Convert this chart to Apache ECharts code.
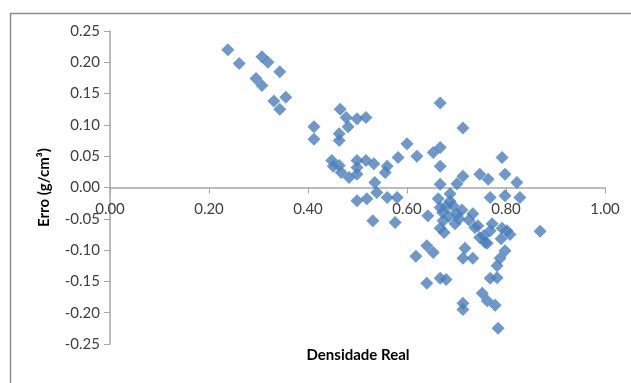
<!DOCTYPE html>
<html>
<head>
<meta charset="utf-8">
<script src="https://cdn.jsdelivr.net/npm/echarts@6/dist/echarts.min.js"></script>
<style>
  html, body { margin: 0; padding: 0; background: #fff; }
  #chart { width: 631px; height: 383px; }
</style>
</head>
<body>
<div id="chart"></div>
<script>
// Real density (x) of each sample
const densidade = [
  0.238, 0.261, 0.307, 0.319, 0.343, 0.295, 0.307, 0.331, 0.343, 0.355,
  0.412, 0.412, 0.465, 0.477, 0.499, 0.517, 0.481, 0.463, 0.463,
  0.667, 0.713, 0.600, 0.582, 0.620, 0.653, 0.667, 0.667,
  0.792, 0.747, 0.764, 0.798, 0.822, 0.713, 0.701, 0.667,
  0.448, 0.451, 0.463, 0.467, 0.483, 0.499, 0.499, 0.499, 0.517, 0.533,
  0.560, 0.556, 0.535,
  0.499, 0.519, 0.539, 0.560, 0.580, 0.531, 0.576,
  0.642, 0.663, 0.667, 0.667, 0.687, 0.693, 0.701, 0.697, 0.673,
  0.733, 0.743, 0.758, 0.768, 0.792, 0.802, 0.768, 0.798, 0.828, 0.869,
  0.640, 0.653, 0.618, 0.717, 0.713, 0.733, 0.798, 0.788, 0.782,
  0.768, 0.782, 0.640, 0.667, 0.679, 0.713, 0.713, 0.752, 0.762, 0.778, 0.784,
  0.737, 0.762, 0.747, 0.705, 0.711, 0.679, 0.687, 0.772, 0.808,
  0.672, 0.685, 0.725, 0.755, 0.790, 0.675
];

// Error of the estimate (g/cm³) for the same samples
const erro = [
  0.220, 0.198, 0.209, 0.200, 0.185, 0.174, 0.163, 0.138, 0.125, 0.144,
  0.097, 0.077, 0.125, 0.112, 0.110, 0.112, 0.097, 0.086, 0.075,
  0.135, 0.095, 0.070, 0.048, 0.050, 0.056, 0.064, 0.034,
  0.048, 0.021, 0.013, 0.021, 0.008, 0.018, 0.006, 0.005,
  0.043, 0.034, 0.035, 0.024, 0.016, 0.043, 0.032, 0.021, 0.043, 0.038,
  0.034, 0.024, 0.008,
  -0.021, -0.018, -0.008, -0.016, -0.016, -0.053, -0.056,
  -0.045, -0.018, -0.032, -0.065, -0.010, -0.029, -0.042, -0.058, -0.053,
  -0.042, -0.061, -0.088, -0.069, -0.065, -0.069, -0.016, -0.013, -0.016, -0.070,
  -0.093, -0.104, -0.110, -0.097, -0.113, -0.113, -0.101, -0.113, -0.125,
  -0.145, -0.144, -0.153, -0.145, -0.147, -0.185, -0.195, -0.169, -0.181, -0.188, -0.225,
  -0.064, -0.089, -0.080, -0.050, -0.036, -0.030, -0.022, -0.058, -0.075,
  -0.040, -0.046, -0.052, -0.077, -0.082, -0.072
];

const xTicks = [0, 0.2, 0.4, 0.6, 0.8, 1.0];
const yTicks = [-0.25, -0.2, -0.15, -0.1, -0.05, 0, 0.05, 0.1, 0.15, 0.2, 0.25];

const points = densidade.map((d, i) => [d, erro[i]]);

const labelFont = { fontFamily: 'Lato', fontSize: 15, color: '#404040' };
const axisGray = '#a6a6a6';

// plot box
const gridTop = 31, gridBottom = 39, gridH = 383 - gridTop - gridBottom;
// distance from the bottom edge of the plot up to the y = 0 line
const zeroOffset = gridH * (0 - yTicks[0]) / (yTicks[yTicks.length - 1] - yTicks[0]);

const chart = echarts.init(document.getElementById('chart'), null, { renderer: 'canvas' });
chart.setOption({
  animation: false,
  backgroundColor: '#ffffff',
  graphic: [{
    type: 'rect',
    left: 8, top: 11,
    shape: { width: 700, height: 500 },
    style: { fill: 'none', stroke: '#8c8c8c', lineWidth: 1.5 },
    silent: true, z: -1
  }, {
    type: 'text',
    x: 358, y: 348,
    style: { text: 'Densidade Real', font: 'bold 15px Lato', fill: '#000', align: 'center' },
    silent: true
  }],
  grid: { left: 110, right: 26, top: gridTop, bottom: gridBottom, containLabel: false, outerBoundsMode: 'none' },
  xAxis: {
    type: 'value',
    position: 'bottom',
    offset: -zeroOffset,
    min: xTicks[0], max: xTicks[xTicks.length - 1], interval: 0.2,
    axisLine: { onZero: false, lineStyle: { color: axisGray, width: 1.5 } },
    axisTick: { show: true, inside: false, length: 6, lineStyle: { color: axisGray } },
    axisLabel: Object.assign({ margin: 14, formatter: v => v.toFixed(2) }, labelFont),
    splitLine: { show: false }
  },
  yAxis: {
    type: 'value',
    min: yTicks[0], max: yTicks[yTicks.length - 1], interval: 0.05,
    name: 'Erro (g/cm³)',
    nameLocation: 'middle',
    nameGap: 58,
    nameTextStyle: { fontFamily: 'Lato', fontSize: 15, fontWeight: 'bold', color: '#000' },
    axisLine: { show: true, onZero: false, lineStyle: { color: axisGray, width: 1.5 } },
    axisTick: { show: true, inside: false, length: 6, lineStyle: { color: axisGray } },
    axisLabel: Object.assign({ margin: 10, formatter: v => v.toFixed(2) }, labelFont),
    splitLine: { show: false }
  },
  series: [{
    type: 'scatter',
    data: points,
    symbol: 'diamond',
    symbolSize: 13,
    itemStyle: { color: '#4a7ebb' }
  }]
});
</script>
</body>
</html>
